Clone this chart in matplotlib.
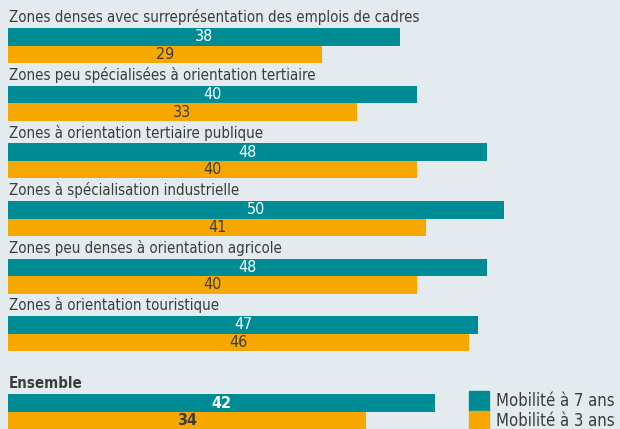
import matplotlib.pyplot as plt
import matplotlib.patches as mpatches
from matplotlib.transforms import blended_transform_factory

categories = [
    "Zones denses avec surreprésentation des emplois de cadres",
    "Zones peu spécialisées à orientation tertiaire",
    "Zones à orientation tertiaire publique",
    "Zones à spécialisation industrielle",
    "Zones peu denses à orientation agricole",
    "Zones à orientation touristique",
    "Ensemble",
]
mob7 = [38, 40, 48, 50, 48, 47, 42]
mob3 = [29, 33, 40, 41, 40, 46, 34]
series_labels = ["Mobilité à 7 ans", "Mobilité à 3 ans"]

teal = "#008c95"
orange = "#f6a800"
bg = "#e4ebef"
txt = "#3c3c3c"

plt.rcParams['font.family'] = ['DejaVu Sans']
plt.rcParams['font.stretch'] = 'condensed'

fig = plt.figure(figsize=(6.2, 4.29), dpi=100, facecolor=bg)
ax = fig.add_axes([8/620, 0, 1 - 8/620, 1])
ax.set_facecolor(bg)

pos = [0, 1, 2, 3, 4, 5, 6.36]
h = 0.305
base = -7.3
tr = blended_transform_factory(ax.transAxes, ax.transData)
for i, p in enumerate(pos):
    bold = 'bold' if i == 6 else 'normal'
    ax.barh(p - h/2, mob7[i] - base, left=base, height=h, color=teal)
    ax.barh(p + h/2, mob3[i] - base, left=base, height=h, color=orange)
    ax.text((mob7[i] + base)/2, p - h/2, str(mob7[i]), ha='center', va='center',
            color='white', fontsize=11.5, fontweight=bold)
    ax.text((mob3[i] + base)/2, p + h/2, str(mob3[i]), ha='center', va='center',
            color=txt, fontsize=11.5, fontweight=bold)
    ax.text(0.002, p - 0.49, categories[i], transform=tr, ha='left', va='center',
            color=txt, fontsize=10.8, fontweight=bold)

ax.set_xlim(base, 63.4)
ax.set_ylim(6.654, -0.793)
ax.axis('off')

handles = [mpatches.Patch(color=teal), mpatches.Patch(color=orange)]
fig.legend(handles, series_labels, loc='upper left', bbox_to_anchor=(469/620, 1 - 391/429),
           frameon=False, fontsize=12, labelspacing=0.0, handlelength=1.2,
           handleheight=1.45, handletextpad=0.45, borderpad=0, borderaxespad=0,
           labelcolor=txt)

fig.savefig("out.png", dpi=100, facecolor=bg)
